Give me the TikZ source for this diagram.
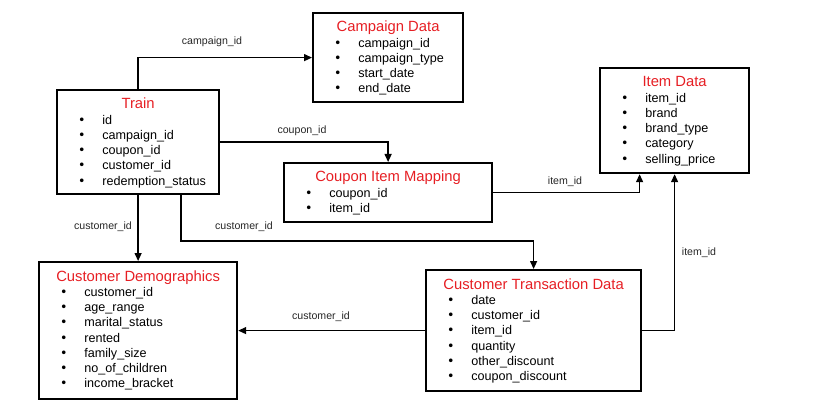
\documentclass[tikz,border=0pt]{standalone}
\usepackage{fontspec}
\setmainfont{Liberation Sans}
\newfontfamily\bulfont{DejaVu Sans}
\usetikzlibrary{arrows.meta}
\definecolor{titlered}{RGB}{230,30,35}
\newcommand{\bt}{\rule{0pt}{10pt}\makebox[24.2pt][l]{\bulfont\char"2022}}
\tikzset{
	tablebox/.style={draw, line width=2.2pt, anchor=north west, inner sep=0pt},
	tabletitle/.style={anchor=base, text=titlered, inner sep=0pt, font=\fontsize{14.8}{16}\selectfont},
	tablerows/.style={anchor=north west, align=left, inner sep=0pt, font=\fontsize{12.6}{15.1}\selectfont},
	fk/.style={line width=1.3pt, -{Triangle[length=8pt,width=7pt]}},
	lbl/.style={inner sep=0pt, text=black!85, font=\fontsize{10.6}{12}\selectfont}
}

\begin{document}
\begin{tikzpicture}[x=1pt,y=-1pt]
		\useasboundingbox (0,0) rectangle (814,417);
		\node[tablebox, minimum width=150pt, minimum height=89pt] (campaign) at (312,12) {};
		\node[tabletitle] (campaignT) at ([shift={(0,20)}]campaign.north) {Campaign Data};
		\node[tablerows] (campaignR) at ([shift={(22,25.5)}]campaign.north west) {\bt campaign\_id\\ \bt campaign\_type\\ \bt start\_date\\ \bt end\_date};
		\node[tablebox, minimum width=162pt, minimum height=104pt] (train) at (56,89) {};
		\node[tabletitle] (trainT) at ([shift={(0,20)}]train.north) {Train};
		\node[tablerows] (trainR) at ([shift={(22,25.5)}]train.north west) {\bt id\\ \bt campaign\_id\\ \bt coupon\_id\\ \bt customer\_id\\ \bt redemption\_status};
		\node[tablebox, minimum width=208pt, minimum height=59pt] (coupon) at (283,162) {};
		\node[tabletitle] (couponT) at ([shift={(0,20)}]coupon.north) {Coupon Item Mapping};
		\node[tablerows] (couponR) at ([shift={(22,25.5)}]coupon.north west) {\bt coupon\_id\\ \bt item\_id};
		\node[tablebox, minimum width=149pt, minimum height=105pt] (item) at (599,67) {};
		\node[tabletitle] (itemT) at ([shift={(0,20)}]item.north) {Item Data};
		\node[tablerows] (itemR) at ([shift={(22,25.5)}]item.north west) {\bt item\_id\\ \bt brand\\ \bt brand\_type\\ \bt category\\ \bt selling\_price};
		\node[tablebox, minimum width=198pt, minimum height=137pt] (demo) at (38,261) {};
		\node[tabletitle] (demoT) at ([shift={(0,20)}]demo.north) {Customer Demographics};
		\node[tablerows] (demoR) at ([shift={(22,25.5)}]demo.north west) {\bt customer\_id\\ \bt age\_range\\ \bt marital\_status\\ \bt rented\\ \bt family\_size\\ \bt no\_of\_children\\ \bt income\_bracket};
		\node[tablebox, minimum width=215pt, minimum height=121pt] (trans) at (425,269) {};
		\node[tabletitle] (transT) at ([shift={(0,20)}]trans.north) {Customer Transaction Data};
		\node[tablerows] (transR) at ([shift={(22,25.5)}]trans.north west) {\bt date\\ \bt customer\_id\\ \bt item\_id\\ \bt quantity\\ \bt other\_discount\\ \bt coupon\_discount};
		\draw[fk] (train.north) |- (campaign.west);
		\draw[fk] (train.east) -| (coupon.north);
		\draw[fk] (coupon.east) -| ([xshift=-35pt]item.south);
		\draw[fk] (train.south) -- (demo.north);
		\draw[fk] ([xshift=43pt]train.south) |- ([yshift=28pt]trans.north) -- (trans.north);
		\draw[fk] (trans.west) -- (demo.east);
		\draw[fk] (trans.east) -| (item.south);
		\node[lbl] (l1) at (212,42) {campaign\_id};
		\node[lbl] (l2) at (302,131) {coupon\_id};
		\node[lbl] (l3) at (565,182) {item\_id};
		\node[lbl] (l4) at (103,227) {customer\_id};
		\node[lbl] (l5) at (244,227) {customer\_id};
		\node[lbl] (l6) at (321,317) {customer\_id};
		\node[lbl] (l7) at (699,253) {item\_id};
	\end{tikzpicture}
\end{document}
